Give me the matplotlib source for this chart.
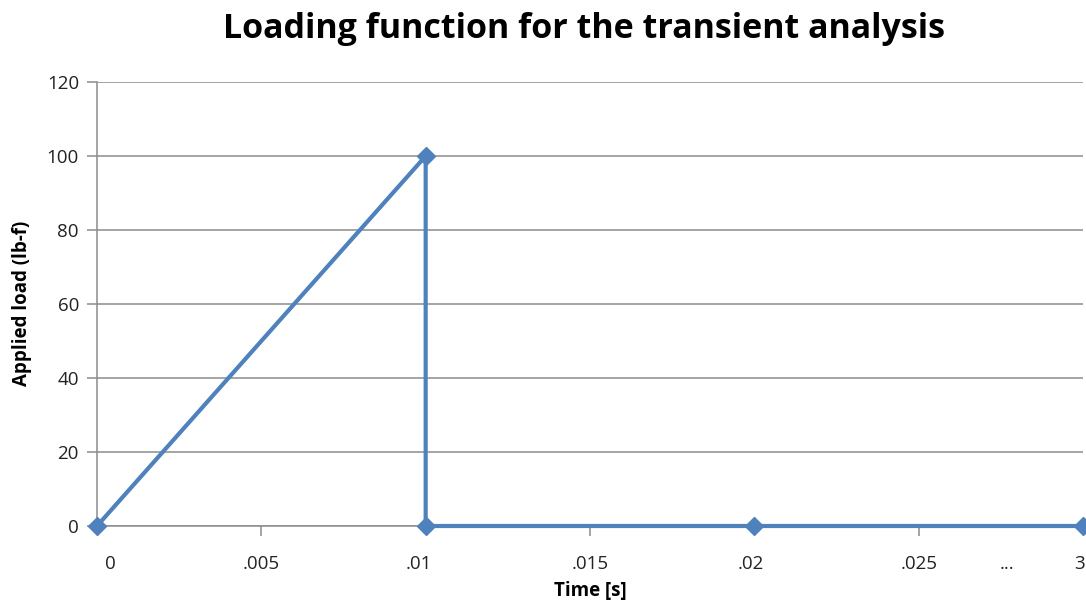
import matplotlib
matplotlib.use("Agg")
import matplotlib.pyplot as plt

# Data
time_s = [0, 0.01, 0.01, 0.02, 3]
load_lbf = [0, 100, 0, 0, 0]
# horizontal display position of each time value (axis broken after .025 -> "...", 3)
time_display = [0, 0.01, 0.01, 0.02, 0.03]
tick_labels = ["0", ".005", ".01", ".015", ".02", ".025", "...", "3"]
tick_label_pos = [0.0004, 0.005, 0.0098, 0.015, 0.0199, 0.025, 0.0277, 0.0299]
minor_ticks = [0.005, 0.015, 0.025]
y_ticks = [0, 20, 40, 60, 80, 100, 120]

plt.rcParams['font.family'] = ['Open Sans', 'DejaVu Sans']

fig = plt.figure(figsize=(10.86, 6.04), dpi=100)
ax = fig.add_axes([97/1086, 1-526/604, (1083-97)/1086, (526-82)/604])

blue = "#4F81BD"
grid = "#8C8C8C"
ax.plot(time_display, load_lbf, color=blue, lw=3.0, marker="D", ms=9,
        mfc=blue, mec=blue, clip_on=False, zorder=5)

ax.set_xlim(0, 0.03)
ax.set_ylim(0, 120)
ax.set_yticks(y_ticks)
ax.set_yticklabels([str(v) for v in y_ticks], fontsize=13.5, color="#222222")
ax.yaxis.grid(True, color=grid, lw=1.1)
ax.set_axisbelow(True)

ax.set_xticks(minor_ticks)
ax.set_xticklabels([])
ax.tick_params(axis="x", length=7, color=grid, width=1.1, direction="out")
ax.tick_params(axis="y", length=7, color=grid, width=1.1, direction="out", pad=6)

for s in ["top", "right"]:
    ax.spines[s].set_visible(False)
for s in ["left", "bottom"]:
    ax.spines[s].set_color(grid)
    ax.spines[s].set_linewidth(1.1)

for pos, lab in zip(tick_label_pos, tick_labels):
    ax.text(pos, -10.3, lab, ha="center", va="center", fontsize=13.5,
            color="#222222", transform=ax.transData, clip_on=False)

fig.text(590/1086, 1-591/604, "Time [s]", ha="center", va="center",
         fontsize=13.5, fontweight="bold")
fig.text(22/1086, 1-303/604, "Applied load (lb-f)", ha="center", va="center",
         fontsize=13.5, fontweight="bold", rotation=90)
fig.text(584/1086, 1-29/604, "Loading function for the transient analysis",
         ha="center", va="center", fontsize=24.5, fontweight="bold")

fig.savefig("out.png", dpi=100)
